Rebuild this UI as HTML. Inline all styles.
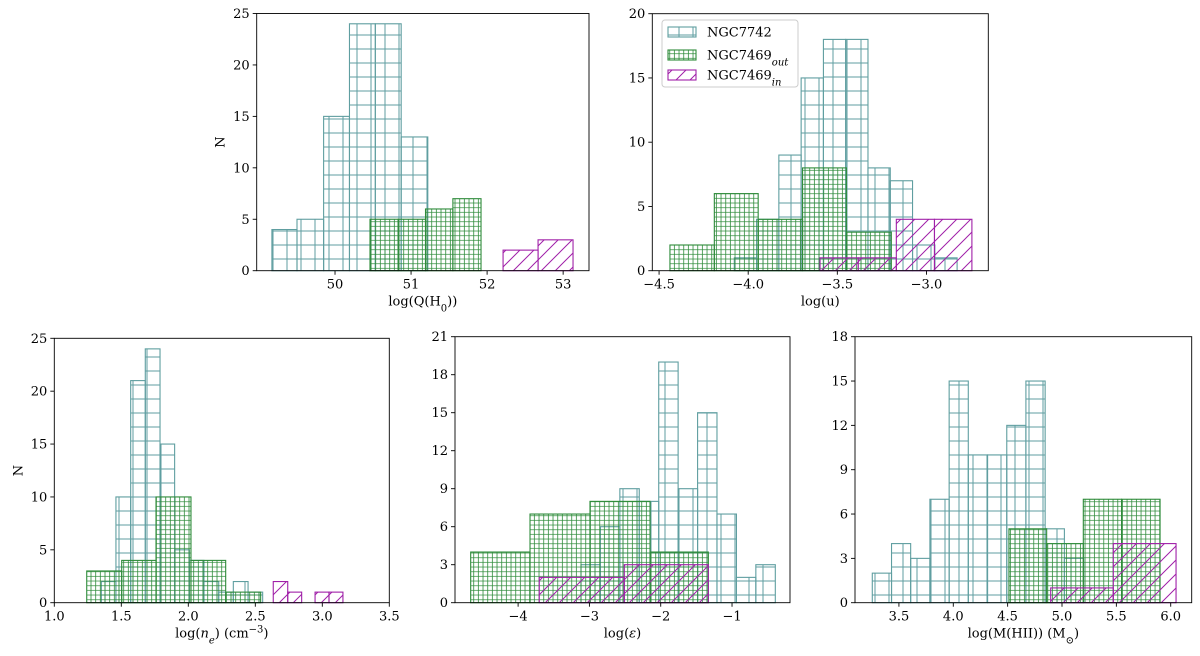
<!DOCTYPE html>
<html><head><meta charset="utf-8"><style>
html,body{margin:0;padding:0;background:#fff;}
svg{display:block;font-family:"DejaVu Serif","Liberation Serif",serif;}
</style></head><body>
<svg id="chart" width="1200" height="656" viewBox="0 0 1200 656" xmlns="http://www.w3.org/2000/svg">
<defs>
<pattern id="hatchTeal" patternUnits="userSpaceOnUse" width="14" height="14"><path d="M7 0V14M0 7H14" stroke="#5f9ea0" stroke-width="1"/></pattern>
<pattern id="hatchGreen" patternUnits="userSpaceOnUse" width="4.667" height="4.667"><path d="M2.33 0V4.667M0 2.33H4.667" stroke="#2e8b3a" stroke-width="0.8"/></pattern>
<pattern id="hatchMag" patternUnits="userSpaceOnUse" width="14" height="14"><path d="M0 14L14 0M-7 7L7 -7M7 21L21 7" stroke="#a020a8" stroke-width="1"/></pattern>
</defs>
</svg>
<script>
// ---- data: panel 1 log(Q(H0)) ----
const p1TealEdges=[49.17,49.50,49.85,50.19,50.53,50.87,51.22];
const p1TealCounts=[4,5,15,24,24,13];
const p1GreenEdges=[50.46,50.83,51.19,51.55,51.92];
const p1GreenCounts=[5,5,6,7];
const p1MagEdges=[52.21,52.67,53.13];
const p1MagCounts=[2,3];
const p1XTicks=[50,51,52,53];
const p1YTicks=[0,5,10,15,20,25];
// ---- panel 2 log(u) ----
const p2TealEdges=[-4.078,-3.953,-3.828,-3.703,-3.578,-3.453,-3.328,-3.203,-3.078,-2.953,-2.828];
const p2TealCounts=[1,4,9,15,18,18,8,7,2,1];
const p2GreenEdges=[-4.439,-4.19,-3.944,-3.695,-3.449,-3.197];
const p2GreenCounts=[2,6,4,8,3];
const p2MagEdges=[-3.597,-3.383,-3.169,-2.955,-2.745];
const p2MagCounts=[1,1,4,4];
const p2XTicks=[-4.5,-4.0,-3.5,-3.0];
const p2YTicks=[0,5,10,15,20];
// ---- panel 3 log(ne) ----
const p3TealEdges=[1.351,1.460,1.570,1.679,1.789,1.898,2.008,2.117,2.227,2.336,2.446,2.555];
const p3TealCounts=[2,10,21,24,15,5,4,2,1,2,1];
const p3GreenEdges=[1.242,1.503,1.759,2.020,2.279,2.540];
const p3GreenCounts=[3,4,10,4,1];
const p3MagEdges=[2.634,2.742,2.846,2.946,3.050,3.154];
const p3MagCounts=[2,1,0,1,1];
const p3XTicks=[1.0,1.5,2.0,2.5,3.0,3.5];
const p3YTicks=[0,5,10,15,20,25];
// ---- panel 4 log(eps) ----
const p4TealEdges=[-3.118,-2.846,-2.573,-2.301,-2.028,-1.756,-1.483,-1.211,-0.938,-0.666,-0.393];
const p4TealCounts=[3,6,9,8,19,9,15,7,2,3];
const p4GreenEdges=[-4.665,-3.833,-2.992,-2.150,-1.332];
const p4GreenCounts=[4,7,8,4];
const p4MagEdges=[-3.703,-2.511,-1.332];
const p4MagCounts=[2,3];
const p4XTicks=[-4,-3,-2,-1];
const p4YTicks=[0,3,6,9,12,15,18,21];
// ---- panel 5 log(M(HII)) ----
const p5TealEdges=[3.255,3.432,3.608,3.785,3.962,4.138,4.315,4.492,4.668,4.845,5.022,5.199];
const p5TealCounts=[2,4,3,7,15,10,10,12,15,5,3];
const p5GreenEdges=[4.512,4.859,5.196,5.548,5.902];
const p5GreenCounts=[5,4,7,7];
const p5MagEdges=[4.896,5.472,6.049];
const p5MagCounts=[1,4];
const p5XTicks=[3.5,4.0,4.5,5.0,5.5,6.0];
const p5YTicks=[0,3,6,9,12,15,18];

const NS="http://www.w3.org/2000/svg";
const svg=document.getElementById('chart');
function mk(tag,attrs,parent){const e=document.createElementNS(NS,tag);for(const k in attrs)e.setAttribute(k,attrs[k]);(parent||svg).appendChild(e);return e;}
function fmt(v,dec){const s=v.toFixed(dec);return s.replace('-','\u2212');}

const panels=[
 {id:'q-h0',box:[256.7,13.5,589,270.7],xd:[48.97,53.34],yd:[0,25],xt:p1XTicks,yt:p1YTicks,dec:0,
  s:[[p1TealEdges,p1TealCounts],[p1GreenEdges,p1GreenCounts],[p1MagEdges,p1MagCounts]],xl:'log(Q(H<tspan baseline-shift="sub" font-size="10">0</tspan>))',yl:true},
 {id:'u',box:[652.3,13.7,988.3,270.7],xd:[-4.538,-2.653],yd:[0,20],xt:p2XTicks,yt:p2YTicks,dec:1,
  s:[[p2TealEdges,p2TealCounts],[p2GreenEdges,p2GreenCounts],[p2MagEdges,p2MagCounts]],xl:'log(u)',legend:true},
 {id:'ne',box:[54.3,338.3,389.3,602.7],xd:[1.0,3.5],yd:[0,25],xt:p3XTicks,yt:p3YTicks,dec:1,
  s:[[p3TealEdges,p3TealCounts],[p3GreenEdges,p3GreenCounts],[p3MagEdges,p3MagCounts]],xl:'log(<tspan font-style="italic">n</tspan><tspan baseline-shift="sub" font-size="10" font-style="italic">e</tspan>) (cm<tspan baseline-shift="super" font-size="10">\u22123</tspan>)',yl:true},
 {id:'eps',box:[455,336.7,790,602.7],xd:[-4.885,-0.187],yd:[0,21],xt:p4XTicks,yt:p4YTicks,dec:0,
  s:[[p4TealEdges,p4TealCounts],[p4GreenEdges,p4GreenCounts],[p4MagEdges,p4MagCounts]],xl:'log(<tspan font-style="italic">\u03b5</tspan>)'},
 {id:'mhii',box:[855,336.7,1191.7,602.7],xd:[3.096,6.193],yd:[0,18],xt:p5XTicks,yt:p5YTicks,dec:1,
  s:[[p5TealEdges,p5TealCounts],[p5GreenEdges,p5GreenCounts],[p5MagEdges,p5MagCounts]],xl:'log(M(HII)) (M<tspan baseline-shift="sub" font-size="10">\u2299</tspan>)'}
];
const fills=['url(#hatchTeal)','url(#hatchGreen)','url(#hatchMag)'];
const strokes=['#5f9ea0','#2e8b3a','#a020a8'];
const sNames=['ngc7742','ngc7469-out','ngc7469-in'];

panels.forEach(p=>{
 const [L,T,R,B]=p.box;
 const g=mk('g',{});
 
 
 const X=v=>L+(v-p.xd[0])/(p.xd[1]-p.xd[0])*(R-L);
 const Y=v=>B-(v-p.yd[0])/(p.yd[1]-p.yd[0])*(B-T);
 p.s.forEach((ser,si)=>{
  const sg=mk('g',{},g);
  
  
  const [edges,counts]=ser;
  counts.forEach((c,i)=>{
   if(c<=0)return;
   const x0=X(edges[i]),x1=X(edges[i+1]),y=Y(c);
   const r=mk('rect',{x:x0,y:y,width:x1-x0,height:B-y,fill:fills[si],stroke:strokes[si],'stroke-width':1.1},sg);
   
   
  });
 });
 const ax=mk('rect',{x:L,y:T,width:R-L,height:B-T,fill:'none',stroke:'#000','stroke-width':0.9},g);
 
 
 p.xt.forEach(t=>{
  const x=X(t);
  mk('line',{x1:x,x2:x,y1:B,y2:B+4,stroke:'#000','stroke-width':0.9},g);
  const tx=mk('text',{x:x,y:B+18,'text-anchor':'middle','font-size':13,fill:'#000'},g);
  tx.textContent=fmt(t,p.dec);
  
  
 });
 p.yt.forEach(t=>{
  const y=Y(t);
  mk('line',{x1:L-4,x2:L,y1:y,y2:y,stroke:'#000','stroke-width':0.9},g);
  const tx=mk('text',{x:L-7,y:y+4.5,'text-anchor':'end','font-size':13,fill:'#000'},g);
  tx.textContent=fmt(t,0);
  
  
 });
 const xl=mk('text',{x:(L+R)/2,y:B+35,'text-anchor':'middle','font-size':13,fill:'#000'},g);
 xl.innerHTML=p.xl;
 
 
 if(p.yl){
  const cy=(T+B)/2, cx=L-32;
  const yl=mk('text',{x:cx,y:cy,'text-anchor':'middle','font-size':13,fill:'#000',transform:'rotate(-90 '+cx+' '+cy+')'},g);
  yl.textContent='N';
  
  
 }
 if(p.legend){
  const lg=mk('g',{},g);
  
  
  mk('rect',{x:662,y:20,width:136,height:67,rx:3,fill:'#fff','fill-opacity':0.85,stroke:'#ccc','stroke-width':1},lg);
  const labels=['NGC7742','NGC7469<tspan baseline-shift="sub" font-size="10" font-style="italic">out</tspan>','NGC7469<tspan baseline-shift="sub" font-size="10" font-style="italic">in</tspan>'];
  [32,55,75].forEach((ly,i)=>{
   const e=mk('g',{},lg);
   
   
   mk('rect',{x:668,y:ly-5,width:28,height:10,fill:fills[i],stroke:strokes[i],'stroke-width':1.1},e);
   const t=mk('text',{x:707,y:ly+4.5,'font-size':13,fill:'#000'},e);
   t.innerHTML=labels[i];
  });
 }
});
</script>
</body></html>
